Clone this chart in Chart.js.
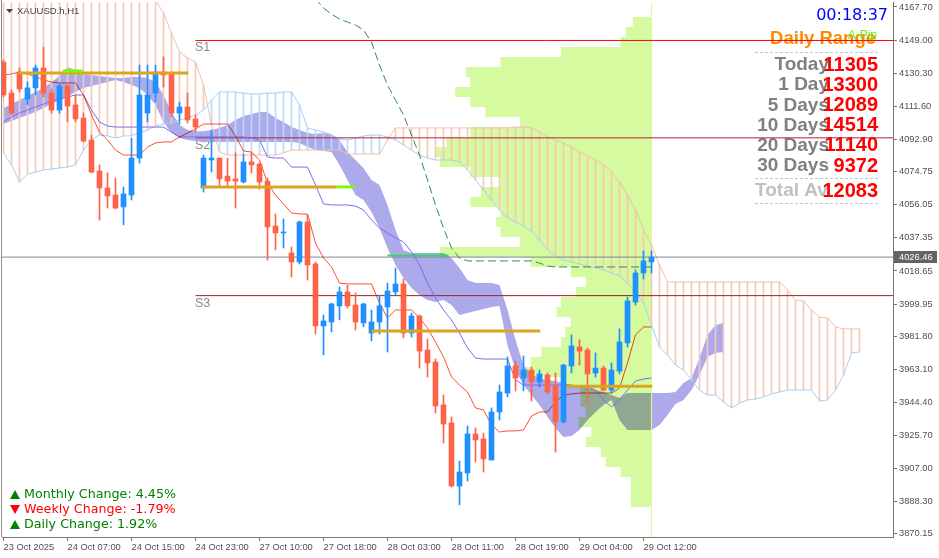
<!DOCTYPE html>
<html>
<head>
<meta charset="utf-8">
<script src="https://cdn.jsdelivr.net/npm/chart.js@4.4.1/dist/chart.umd.min.js"></script>
<style>
  html, body { margin: 0; padding: 0; background: #fff; }
  #wrap { width: 939px; height: 558px; }
</style>
</head>
<body>
<div id="wrap"><canvas id="chart" width="939" height="558"></canvas></div>
<script>
// ---- data (bar index 0 = 23 Oct 23:00, H1 bars) ----
const opens  = [4136.6,4119.1,4131.0,4115.7,4122.0,4133.3,4119.1,4109.5,4123.1,4112.4,
                4105.0,4092.6,4075.1,4065.5,4061.5,4054.8,4061.5,4082.4,4107.8,4119.1,
                4131.0,4130.4,4107.8,4111.2,4104.5,4065.5,4081.3,4082.4,4072.2,4070.6,
                4068.9,4080.2,4079.0,4069.4,4044.0,4040.1,4028.8,4023.7,4046.3,4022.6,
                3987.6,3989.8,3998.9,4006.8,3999.4,3989.3,3983.6,3989.8,3998.3,4006.8,
                4011.3,3983.6,3993.2,3974.0,3967.2,3943.0,3932.8,3897.2,3904.6,3926.6,
                3923.8,3911.9,3939.0,3949.7,3965.0,3958.2,3962.7,3955.9,3959.9,3953.7,
                3933.4,3965.0,3975.7,3974.0,3961.0,3963.8,3951.4,3962.1,3978.0,4001.1,
                4017.5,4023.7];
const highs  = [4137.8,4120.8,4133.3,4125.3,4134.9,4145.1,4121.4,4124.8,4124.8,4118.0,
                4107.8,4095.4,4078.5,4074.0,4071.1,4066.1,4093.7,4134.9,4134.9,4134.9,
                4139.5,4131.0,4114.0,4119.1,4106.7,4084.1,4098.2,4082.4,4082.4,4085.3,
                4084.7,4085.3,4079.6,4071.1,4050.8,4048.0,4032.2,4046.9,4050.2,4023.7,
                3993.8,4000.5,4009.6,4010.7,4006.2,4000.5,3996.6,4005.1,4011.8,4020.3,
                4014.1,3994.9,3993.8,3980.2,3968.9,3948.6,3936.2,3911.3,3931.1,3930.0,
                3927.1,3941.3,3954.2,3970.1,3967.8,3970.6,3964.4,3962.7,3961.0,3961.0,
                3966.0,3982.5,3979.7,3975.1,3972.3,3964.9,3966.7,3985.9,4003.9,4019.2,
                4029.9,4029.9];
const lows   = [4116.9,4106.7,4119.7,4112.4,4118.0,4116.9,4107.8,4107.8,4102.8,4102.8,
                4091.5,4074.0,4047.4,4054.2,4053.6,4044.6,4058.7,4079.6,4102.8,4114.0,
                4122.5,4105.6,4101.6,4102.2,4097.1,4063.2,4074.5,4066.1,4066.1,4054.2,
                4068.3,4074.0,4064.9,4024.8,4030.5,4031.6,4015.2,4022.6,4013.5,3983.0,
                3971.2,3984.2,3991.0,3997.7,3985.3,3987.0,3979.1,3983.0,3972.9,4005.1,
                3980.8,3981.3,3963.8,3958.8,3938.4,3921.5,3896.6,3886.5,3900.0,3910.8,
                3905.1,3911.9,3934.5,3947.5,3950.9,3950.9,3945.2,3953.1,3949.2,3916.4,
                3932.8,3961.0,3965.5,3944.1,3958.8,3950.9,3949.7,3960.5,3975.7,3999.4,
                4014.1,4017.5];
const closes = [4118.0,4107.8,4121.4,4122.0,4133.3,4119.1,4109.5,4123.1,4111.8,4104.5,
                4092.0,4074.5,4065.5,4061.0,4054.2,4062.1,4082.4,4118.0,4118.0,4131.0,
                4129.3,4107.8,4111.2,4103.9,4099.9,4082.4,4082.4,4070.6,4069.4,4069.4,
                4080.2,4078.5,4068.9,4043.5,4040.1,4040.6,4023.7,4046.3,4022.0,3987.6,
                3990.4,4000.0,4006.8,3998.9,3989.8,4000.0,3989.8,3998.9,4007.3,4011.3,
                3983.6,3993.2,3973.4,3966.7,3942.4,3932.2,3897.2,3905.1,3926.6,3923.2,
                3912.5,3939.0,3950.3,3965.0,3958.2,3962.7,3955.9,3960.5,3950.3,3933.4,
                3965.5,3976.3,3973.4,3960.5,3963.8,3951.4,3962.7,3978.5,4001.7,4017.5,
                4024.3,4026.46];

// Ichimoku (hatched cloud, shifted 26 bars forward)
const spanA = [4180,4180,4180,4180,4180,4180,4180,4180,4180,4180,
               4180,4180,4180,4180,4180,4180,4180,4180,4180,4171.6,
               4164.3,4153.0,4142.3,4138.9,4136.6,4123.7,4101.1,4085.8,4084.1,4084.1,
               4084.1,4084.1,4084.1,4084.1,4084.1,4085.3,4086.9,4086.9,4086.9,4086.9,
               4086.9,4086.9,4086.9,4084.7,4084.7,4084.7,4084.7,4084.7,4092.6,4099.4,
               4099.4,4099.4,4099.4,4099.4,4099.4,4099.4,4099.4,4099.4,4099.4,4099.4,
               4099.4,4099.4,4099.4,4099.4,4099.9,4099.9,4099.4,4097.1,4094.3,4092.6,
               4090.9,4088.6,4085.8,4083.6,4081.3,4078.5,4074.5,4068.9,4061.5,4053.1,
               4041.8,4033.3,4022.0,4012.4,4012.4,4012.4,4012.4,4012.4,4012.4,4012.4,
               4012.4,4012.4,4012.4,4012.4,4012.4,4012.4,4012.4,4012.4,4007.9,4002.2,
               4001.7,3996.6,3992.6,3992.1,3987.0,3985.9,3985.9,3985.9];
const spanB = [4085.3,4078.5,4068.9,4073.4,4074.5,4075.7,4076.2,4076.8,4077.3,4078.5,
               4086.9,4092.6,4095.4,4094.9,4093.7,4094.9,4094.9,4096.5,4098.2,4100.5,
               4101.6,4102.2,4103.9,4105.0,4106.7,4109.5,4115.2,4119.7,4119.7,4119.7,
               4119.1,4118.6,4118.6,4119.1,4119.1,4119.7,4119.7,4112.4,4099.4,4098.2,
               4097.1,4095.4,4093.2,4092.6,4093.7,4094.9,4095.4,4095.4,4094.3,4092.6,
               4089.8,4086.9,4084.1,4082.4,4081.3,4081.3,4081.3,4080.2,4075.7,4070.0,
               4064.4,4058.7,4053.1,4048.5,4046.3,4044.0,4041.2,4036.1,4030.5,4027.1,
               4024.8,4023.7,4022.6,4021.4,4020.3,4019.2,4017.5,4015.8,4011.8,4006.8,
               4000.5,3988.1,3975.7,3971.2,3965.5,3962.7,3957.1,3951.4,3948.6,3948.6,
               3944.6,3941.3,3944.1,3945.8,3946.3,3947.5,3949.2,3950.3,3951.4,3951.4,
               3951.4,3951.4,3945.2,3945.8,3951.4,3959.9,3972.3,3972.9];
const tenkan = [4129.3,4129.9,4131.0,4129.9,4128.2,4126.5,4125.3,4124.8,4124.8,4124.8,
                4118.0,4106.7,4097.1,4092.6,4086.9,4084.1,4084.1,4084.1,4088.6,4090.9,
                4091.5,4091.5,4094.3,4096.5,4098.8,4101.6,4101.6,4101.6,4101.6,4094.9,
                4086.4,4085.8,4081.3,4068.3,4061.5,4056.5,4051.4,4050.8,4050.8,4034.4,
                4026.0,4020.9,4011.8,4011.3,4011.3,4011.3,4011.3,4000.5,3992.1,3996.6,
                3996.6,3996.6,3992.1,3986.4,3978.5,3970.1,3958.8,3954.2,3950.3,3941.3,
                3940.1,3931.7,3927.7,3928.3,3928.3,3928.8,3936.7,3939.0,3939.0,3944.6,
                3948.6,3949.2,3949.7,3949.7,3949.7,3949.7,3949.7,3952.5,3966.7,3982.5,
                3987.0,3987.0];
const kijun  = [4102.8,4105.6,4107.8,4109.5,4111.2,4112.9,4114.6,4115.7,4116.9,4118.0,
                4118.0,4109.5,4102.8,4100.5,4099.9,4099.9,4099.9,4099.9,4099.9,4099.9,
                4099.9,4097.1,4094.3,4094.3,4094.3,4094.3,4094.3,4094.3,4094.3,4094.3,
                4094.3,4093.7,4092.6,4083.0,4082.4,4082.4,4077.3,4077.3,4077.3,4067.2,
                4056.5,4055.9,4055.9,4055.9,4055.3,4053.1,4047.4,4042.9,4040.1,4037.3,
                4035.0,4029.4,4022.0,4011.8,4003.4,3996.6,3990.9,3983.6,3975.1,3969.5,
                3968.9,3968.9,3968.9,3968.9,3957.1,3954.2,3954.2,3954.2,3954.2,3954.2,
                3954.2,3954.2,3953.1,3953.1,3951.4,3945.8,3941.8,3945.8,3951.4,3956.5,
                3957.6,3958.2];

// filled (lavender) cloud of the second indicator
const bandTop = [4110.7,4112.9,4115.2,4117.4,4119.7,4122.0,4125.3,4128.7,4133.8,4132.1,
                 4129.9,4129.3,4128.7,4128.2,4127.6,4127.6,4128.2,4128.2,4127.6,4125.3,
                 4118.0,4108.4,4101.1,4098.2,4097.6,4097.6,4098.2,4099.4,4101.1,4103.9,
                 4106.1,4107.3,4108.4,4108.4,4105.0,4102.8,4099.9,4098.2,4096.5,4096.0,
                 4096.5,4096.0,4092.6,4085.8,4081.3,4076.8,4070.0,4067.2,4055.9,4041.8,
                 4030.5,4028.8,4028.8,4028.8,4028.8,4028.8,4025.9,4020.3,4013.5,4011.8,
                 4011.8,4011.8,4010.7,3996.6,3979.7,3965.5,3959.9,3958.2,3957.1,3956.5,
                 3955.4,3954.2,3953.1,3952.5,3951.4,3950.3,3948.6,3946.9,3949.7,3949.7,
                 3949.7,3949.7,3949.7,3949.7,3950.3,3955.4,3958.2,3969.5,3982.5,3988.1,
                 3989.3];
const bandBottom = [4101.6,4103.3,4105.0,4106.7,4108.4,4110.7,4112.9,4115.2,4117.4,4119.7,
                    4122.0,4123.1,4124.2,4125.3,4126.5,4125.3,4123.6,4122.0,4118.0,4112.4,
                    4102.8,4096.5,4093.7,4092.6,4092.0,4091.5,4091.5,4091.5,4091.5,4091.5,
                    4091.5,4091.5,4091.5,4091.5,4091.5,4091.5,4091.5,4090.9,4088.6,4086.9,
                    4086.4,4085.8,4078.5,4070.0,4061.5,4058.7,4051.9,4042.9,4031.6,4022.0,
                    4014.6,4009.0,4005.1,4002.2,4001.1,4002.2,3999.4,3993.8,3994.9,3996.0,
                    3997.2,3998.3,3998.9,3976.8,3962.7,3954.2,3948.6,3943.0,3936.2,3929.9,
                    3924.9,3925.4,3928.8,3934.5,3939.0,3943.0,3945.8,3934.5,3928.8,3928.8,
                    3928.8,3928.8,3931.7,3937.3,3943.5,3945.8,3951.4,3959.9,3970.1,3972.3,
                    3972.9];

// green dashed line, starts at bar 39
const dashStart = 39;
const dashLine = [4172.5,4167.1,4163.7,4160.9,4159.2,4157.5,4154.7,4147.9,4134.9,4123.6,
                  4115.2,4106.7,4095.4,4084.1,4070.0,4055.9,4042.9,4031.6,4025.9,4024.3,
                  4024.3,4024.3,4024.3,4024.3,4024.3,4024.3,4024.3,4024.3,4023.1,4021.4,
                  4020.9,4020.9,4020.9,4020.9,4020.9,4020.9,4020.9,4020.9,4020.9,4020.9,
                  4020.9,4020.9,4020.9];

// volume profile, rows from the bottom level upward
const profileLow = 3888.16;
const profileStep = 5.6471;
const profileVol = [9.7,9.7,9.7,14.4,21.3,23.6,30.6,28,34,30.6,
                    33,33,42,58,56,51,42,40,37.5,44,
                    42,35,30.6,37.5,56,98,61,70,72,70,
                    84,79,70,84,98,100,95,84,61,77,
                    84,91,84,86,70,42,14.4,12,8.8];

// horizontal levels
const priceNow = 4026.46;
const sLevels = [4148.8, 4093.8, 4004.7];
const sNames = ['S1', 'S2', 'S3'];
const sColors = ['#ff0000', '#b5203a', '#9e1f22'];
const sStart = 24;
// orange boxes [price, fromBar, toBar]
const orangeSegs = [[4130.4, 1.85, 23.1], [4066.1, 24.8, 41.65], [3984.7, 46.0, 67.1], [3953.6, 70.4, 81.1]];
const limeSegs = [[4131.6, 7.4, 9.9], [4066.1, 41.65, 43.9]];
const greenSeg = [4027.3, 48, 55.6];

// axes
const xTickIdx = [0, 8, 16, 24, 32, 40, 48, 56, 64, 72, 80];
const xTickLabels = ['23 Oct 2025', '24 Oct 07:00', '24 Oct 15:00', '24 Oct 23:00', '27 Oct 10:00',
                     '27 Oct 18:00', '28 Oct 03:00', '28 Oct 11:00', '28 Oct 19:00', '29 Oct 04:00', '29 Oct 12:00'];
const yTicks = [4167.70, 4149.00, 4130.30, 4111.60, 4092.90, 4074.75, 4056.05, 4037.35, 4018.65,
                3999.95, 3981.80, 3963.10, 3944.40, 3925.70, 3907.00, 3888.30, 3870.15];

// panel texts
const rangeLabels = ['Today', '1 Day', '5 Days', '10 Days', '20 Days', '30 Days'];
const rangeValues = ['11305', '13300', '12089', '14514', '11140', '9372'];
const totalAvg = '12083';
const changes = [['Monthly Change: 4.45%', 1], ['Weekly Change: -1.79%', -1], ['Daily Change: 1.92%', 1]];

// ---- build datasets ----
const BLUE = '#1e90ff', RED = '#ff6347';
const candleCol = closes.map((c, k) => c >= opens[k] ? BLUE : RED);
const pts = (arr, start) => arr.map((v, k) => ({ x: k + (start || 0), y: v }));
const seg = (p, a, b) => [{ x: a, y: p }, { x: b, y: p }];
const lineDs = (data, color, order, extra) => Object.assign({
  type: 'line', data: data, borderColor: color, borderWidth: 1, pointRadius: 0,
  fill: false, tension: 0, order: order
}, extra || {});

const datasets = [];
datasets.push(lineDs(pts(bandTop), 'rgba(0,0,0,0)', 100, { borderWidth: 0, fill: '+1', backgroundColor: '#adaaeb' }));
datasets.push(lineDs(pts(bandBottom), 'rgba(0,0,0,0)', 99, { borderWidth: 0 }));
datasets.push({
  type: 'bar', indexAxis: 'y', xAxisID: 'xv', yAxisID: 'y', order: 90, blend: 'multiply', edgeLine: true,
  data: profileVol.map((v, k) => ({ x: v, y: profileLow + k * profileStep })),
  backgroundColor: '#d5fa9f', barThickness: 10, grouped: false, borderWidth: 0, inflateAmount: 0
});
datasets.push({
  type: 'bar', order: 80, grouped: false, barThickness: 1, borderWidth: 0,
  data: spanA.map((a, k) => ({ x: k, y: [a, spanB[k]] })),
  backgroundColor: spanA.map((a, k) => a > spanB[k] ? '#f6c8b6' : '#b8dbf7')
});
datasets.push(lineDs(pts(spanA), '#f4bfa8', 79));
datasets.push(lineDs(pts(spanB), '#a6d1f5', 78));
datasets.push(lineDs(seg(priceNow, -1, 112), '#7a8a9a', 70));
sLevels.forEach((p, k) => datasets.push(lineDs(seg(p, sStart, 112), sColors[k], 69 - k)));
datasets.push(lineDs(pts(dashLine, dashStart), '#2e8b57', 60, { borderDash: [8, 4] }));
datasets.push(lineDs(seg(greenSeg[0], greenSeg[1], greenSeg[2]), '#3ad36a', 59, { borderWidth: 2 }));
datasets.push(lineDs(pts(kijun), '#7b6cf0', 55));
datasets.push(lineDs(pts(tenkan), '#ff4f2e', 54, { blend: 'multiply' }));
datasets.push({
  type: 'bar', order: 20, grouped: false, barThickness: 1, borderWidth: 0,
  data: lows.map((l, k) => ({ x: k, y: [l, highs[k]] })), backgroundColor: candleCol
});
datasets.push({
  type: 'bar', order: 10, grouped: false, barThickness: 5, borderWidth: 0, minBarLength: 1,
  data: opens.map((o, k) => ({ x: k, y: [o, closes[k]] })), backgroundColor: candleCol
});
orangeSegs.forEach(s => datasets.push(lineDs(seg(s[0], s[1], s[2]), '#daa520', 5, { borderWidth: 3 })));
limeSegs.forEach(s => datasets.push(lineDs(seg(s[0], s[1], s[2]), '#7cfc00', 4, { borderWidth: 3 })));

// ---- plugins ----
const bgPlugin = {
  id: 'bg',
  beforeDraw(chart) {
    const ctx = chart.ctx;
    ctx.save();
    ctx.fillStyle = '#ffffff';
    ctx.fillRect(0, 0, chart.width, chart.height);
    ctx.restore();
  }
};

const blendPlugin = {
  id: 'blend',
  beforeDatasetDraw(chart, args) {
    const ds = chart.data.datasets[args.index];
    if (ds.blend) { chart.ctx.save(); chart.ctx.globalCompositeOperation = ds.blend; }
  },
  afterDatasetDraw(chart, args) {
    const ds = chart.data.datasets[args.index];
    if (ds.blend) chart.ctx.restore();
    if (ds.edgeLine) {
      const ctx = chart.ctx, a = chart.chartArea;
      const xp = Math.round(chart.scales.xv.getPixelForValue(0)) - 0.5;
      ctx.save();
      ctx.strokeStyle = '#d5fa9f';
      ctx.beginPath(); ctx.moveTo(xp, a.top); ctx.lineTo(xp, a.bottom); ctx.stroke();
      ctx.restore();
    }
  }
};

function dashed(ctx, x1, x2, y) {
  ctx.save();
  ctx.strokeStyle = '#c4c4c4';
  ctx.setLineDash([3, 2]);
  ctx.beginPath(); ctx.moveTo(x1, y + 0.5); ctx.lineTo(x2, y + 0.5); ctx.stroke();
  ctx.restore();
}

const panelPlugin = {
  id: 'panel',
  beforeDatasetsDraw(chart) {
    const ctx = chart.ctx;
    ctx.save();
    ctx.textBaseline = 'middle';
    ctx.textAlign = 'right';
    ctx.font = '16px "DejaVu Sans"';
    ctx.fillStyle = '#0000ff';
    ctx.fillText('00:18:37', 888, 16);
    ctx.font = 'bold 18.5px "Liberation Sans"';
    ctx.fillStyle = '#ff8c00';
    ctx.fillText('Daily Range', 876, 39);
    ctx.font = '12px "Liberation Sans"';
    ctx.fillStyle = '#66ee22';
    ctx.fillText('A-Pip', 877, 36);
    dashed(ctx, 755, 878, 52);
    rangeLabels.forEach((t, k) => {
      const y = 65 + k * 20.2;
      ctx.font = 'bold 19px "Liberation Sans"';
      ctx.fillStyle = '#808080';
      ctx.fillText(t, 829, y);
      ctx.font = 'bold 20px "Liberation Sans"';
      ctx.fillStyle = '#ff0000';
      ctx.fillText(rangeValues[k], 878, y);
    });
    dashed(ctx, 755, 878, 178);
    ctx.textAlign = 'left';
    ctx.font = 'bold 19px "Liberation Sans"';
    ctx.fillStyle = '#c0c0c0';
    ctx.fillText('Total Av', 755, 191);
    ctx.textAlign = 'right';
    ctx.font = 'bold 20px "Liberation Sans"';
    ctx.fillStyle = '#ff0000';
    ctx.fillText(totalAvg, 878, 191);
    dashed(ctx, 755, 878, 203);

    // level captions
    const xs = chart.scales.x, ys = chart.scales.y;
    ctx.textAlign = 'left';
    ctx.font = '12.5px "Liberation Sans"';
    ctx.fillStyle = '#8a8a8a';
    sLevels.forEach((p, k) => ctx.fillText(sNames[k], xs.getPixelForValue(sStart) - 0.5, ys.getPixelForValue(p) + 7.5));
    ctx.restore();
  },
  afterDraw(chart) {
    const ctx = chart.ctx, a = chart.chartArea, ys = chart.scales.y;
    ctx.save();
    // left frame
    ctx.strokeStyle = '#8c8c8c';
    ctx.beginPath(); ctx.moveTo(a.left - 0.5, 0); ctx.lineTo(a.left - 0.5, a.bottom); ctx.stroke();
    // title
    ctx.fillStyle = '#444';
    ctx.beginPath(); ctx.moveTo(6, 9); ctx.lineTo(13, 9); ctx.lineTo(9.5, 13); ctx.closePath(); ctx.fill();
    ctx.font = '9.5px "Liberation Sans"';
    ctx.textBaseline = 'middle';
    ctx.textAlign = 'left';
    ctx.fillText('XAUUSD.h,H1', 17, 11.5);
    // change lines
    ctx.font = '12.7px "DejaVu Sans"';
    changes.forEach((c, k) => {
      const y = 494.5 + k * 15;
      const col = c[1] > 0 ? '#008000' : '#ff0000';
      ctx.fillStyle = col;
      ctx.beginPath();
      if (c[1] > 0) { ctx.moveTo(10, y + 4.5); ctx.lineTo(20, y + 4.5); ctx.lineTo(15, y - 4.5); }
      else { ctx.moveTo(10, y - 4.5); ctx.lineTo(20, y - 4.5); ctx.lineTo(15, y + 4.5); }
      ctx.closePath(); ctx.fill();
      ctx.fillText(c[0], 24, y);
    });
    // current price tag
    const py = ys.getPixelForValue(priceNow);
    ctx.fillStyle = '#646464';
    ctx.fillRect(894, Math.round(py) - 6, 43, 12);
    ctx.fillStyle = '#ffffff';
    ctx.font = '9.3px "Liberation Sans"';
    ctx.fillText(priceNow.toFixed(2), 899, py + 0.5);
    ctx.restore();
  }
};

Chart.defaults.font.family = '"Liberation Sans", sans-serif';

new Chart(document.getElementById('chart'), {
  type: 'bar',
  data: { datasets: datasets },
  options: {
    responsive: false,
    animation: false,
    events: [],
    layout: { padding: { left: 2, top: 2, right: 0, bottom: 0 } },
    plugins: { legend: { display: false }, tooltip: { enabled: false } },
    scales: {
      x: {
        type: 'linear', position: 'bottom', min: -0.1875, max: 111.1875, offset: false,
        afterFit: s => { s.height = 21; s.paddingLeft = 0; s.paddingRight = 0; },
        afterBuildTicks: s => { s.ticks = xTickIdx.map(v => ({ value: v })); },
        ticks: {
          autoSkip: false, maxRotation: 0, align: 'start', padding: 1,
          color: '#50505a', font: { size: 9.3 },
          callback: (v, k) => xTickLabels[k]
        },
        grid: { drawOnChartArea: false, tickLength: 4, color: '#777', offset: false },
        border: { display: true, color: '#777' }
      },
      y: {
        type: 'linear', position: 'right', min: 3868.4, max: 4170.52, offset: false,
        afterFit: s => { s.width = 46; s.paddingTop = 0; s.paddingBottom = 0; },
        afterBuildTicks: s => { s.ticks = yTicks.map(v => ({ value: v })); },
        ticks: {
          autoSkip: false, padding: 2, color: '#50505a', font: { size: 9.3 },
          callback: v => v.toFixed(2)
        },
        grid: { drawOnChartArea: false, tickLength: 4, color: '#777', offset: false },
        border: { display: true, color: '#777' }
      },
      xv: { type: 'linear', display: false, reverse: true, min: -111.7, max: 300.8, offset: false }
    }
  },
  plugins: [bgPlugin, blendPlugin, panelPlugin]
});
</script>
</body>
</html>
